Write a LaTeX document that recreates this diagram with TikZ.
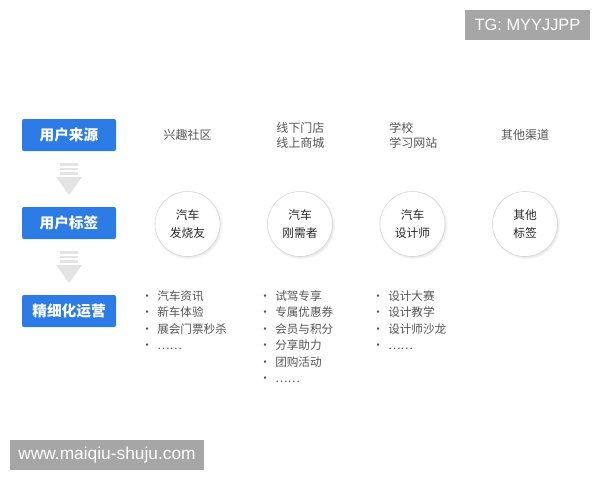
\documentclass[tikz,border=0pt]{standalone}
\usepackage{fontspec}
\setmainfont{Noto Sans CJK SC}
\newfontfamily\wmfont{Liberation Sans}
\usetikzlibrary{shadows}
\definecolor{tagblue}{RGB}{45,123,229}
\definecolor{txtgray}{RGB}{85,85,85}
\definecolor{arrowgray}{RGB}{228,228,228}
\definecolor{markgray}{RGB}{166,166,166}
\newcommand{\itm}[1]{\makebox[12pt][l]{·}#1}

\begin{document}
\begin{tikzpicture}[x=0.75pt,y=0.75pt,yscale=-1,xscale=1,
  stagebox/.style={fill=tagblue,rounded corners=1.5pt,minimum width=70.5pt,minimum height=24pt,
    text=white,font=\fontsize{11}{13}\selectfont\bfseries,inner sep=0pt},
  tagcircle/.style={circle,draw=black!18,line width=0.4pt,fill=white,minimum size=48.75pt,inner sep=0pt,
    circular drop shadow={shadow xshift=0.6pt,shadow yshift=-0.8pt,shadow scale=1.06,opacity=0.3,fill=black!45},
    align=center,text=black!85,font=\fontsize{8.8}{13.5}\selectfont},
  srctext/.style={text=txtgray,font=\fontsize{9}{11.3}\selectfont,inner sep=0pt},
  listtext/.style={text=txtgray,font=\fontsize{8.7}{12.4}\selectfont,inner sep=0pt,align=left,anchor=north west},
  downarrow/.style={fill=arrowgray,draw=none},
  watermark/.style={fill=markgray,draw=none}]
\useasboundingbox (0,0) rectangle (600,480);

% stages on the left
\node [stagebox] (source) at (69,135) {用户来源};
\node [stagebox] (label) at (69,223) {用户标签};
\node [stagebox] (operate) at (69,311) {精细化运营};

% down arrows between stages
\foreach \dy in {0,88} {
  \fill [downarrow] (60,163+\dy) rectangle (78,165.5+\dy);
  \fill [downarrow] (60,167.5+\dy) rectangle (78,170+\dy);
  \fill [downarrow] (60,172+\dy) rectangle (78,174.5+\dy);
  \fill [downarrow] (56,177+\dy) -- (82,177+\dy) -- (69,195+\dy) -- cycle;
}

% channels
\node [srctext] (fans src) at (187.5,135) {兴趣社区};
\node [srctext,align=left,anchor=west] (buyer src) at (276,135) {线下门店\\线上商城};
\node [srctext,align=left,anchor=west] (design src) at (389,135) {学校\\学习网站};
\node [srctext] (other src) at (525,135) {其他渠道};

% user tags
\node [tagcircle] (fans) at (187.5,224) {汽车\\发烧友};
\node [tagcircle] (buyer) at (300,224) {汽车\\刚需者};
\node [tagcircle] (design) at (412.5,224) {汽车\\设计师};
\node [tagcircle] (other) at (525,224) {其他\\标签};

% operations
\node [listtext] (fans ops) at (141,290) {\itm{汽车资讯}\\\itm{新车体验}\\\itm{展会门票秒杀}\\\itm{……}};
\node [listtext] (buyer ops) at (259,290) {\itm{试驾专享}\\\itm{专属优惠券}\\\itm{会员与积分}\\\itm{分享助力}\\\itm{团购活动}\\\itm{……}};
\node [listtext] (design ops) at (372,290) {\itm{设计大赛}\\\itm{设计教学}\\\itm{设计师沙龙}\\\itm{……}};

% watermarks
\fill [watermark] (465,10) rectangle (590,40);
\node [text=white,font=\wmfont\fontsize{12.3}{14}\selectfont] (tg) at (527.5,25) {TG: MYYJJPP};
\fill [watermark] (10,440) rectangle (204,470);
\node [text=white,font=\wmfont\fontsize{13}{15}\selectfont] (site) at (107,455) {www.maiqiu-shuju.com};

\end{tikzpicture}
\end{document}
